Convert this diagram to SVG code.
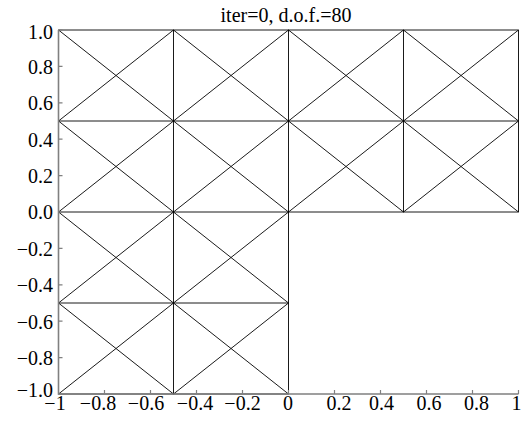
<svg xmlns="http://www.w3.org/2000/svg" width="526" height="422" viewBox="0 0 526 422">
<style>
.m{stroke:#000;stroke-width:0.9;fill:none}
.ax{stroke:#808080;stroke-width:1.6;fill:none}
.tk{stroke:#808080;stroke-width:1.2;fill:none}
text{font-family:"Liberation Serif","Times New Roman",serif;font-size:20px;fill:#000}
.yl{text-anchor:end}
.xl{text-anchor:middle}
</style>
<rect width="526" height="422" fill="#fff"/>
<g id="mesh">
<path class="m" d="M58.5 30H518.5M58.5 121H518.5M58.5 212H518.5M58.5 303H288.5M58.5 394H288.5
M58.5 30V394M173.5 30V394M288.5 30V394M403.5 30V212M518.5 30V212
M58.5 30L173.5 121M58.5 121L173.5 30M173.5 30L288.5 121M173.5 121L288.5 30M288.5 30L403.5 121M288.5 121L403.5 30M403.5 30L518.5 121M403.5 121L518.5 30
M58.5 121L173.5 212M58.5 212L173.5 121M173.5 121L288.5 212M173.5 212L288.5 121M288.5 121L403.5 212M288.5 212L403.5 121M403.5 121L518.5 212M403.5 212L518.5 121
M58.5 212L173.5 303M58.5 303L173.5 212M173.5 212L288.5 303M173.5 303L288.5 212
M58.5 303L173.5 394M58.5 394L173.5 303M173.5 303L288.5 394M173.5 394L288.5 303"/>
</g>
<g id="axes">
<path class="ax" d="M58.5 30V394H518.5"/>
<path class="tk" d="M58.5 357.6h4M58.5 321.2h4M58.5 284.8h4M58.5 248.4h4M58.5 212h4M58.5 175.6h4M58.5 139.2h4M58.5 102.8h4M58.5 66.4h4M58.5 30h4
M104.5 394v-4M150.5 394v-4M196.5 394v-4M242.5 394v-4M288.5 394v-4M334.5 394v-4M380.5 394v-4M426.5 394v-4M472.5 394v-4M518.5 394v-4"/>
</g>
<g id="ylabels">
<text class="yl" x="53" y="39">1.0</text>
<text class="yl" x="53" y="73.5">0.8</text>
<text class="yl" x="53" y="110">0.6</text>
<text class="yl" x="53" y="146.5">0.4</text>
<text class="yl" x="53" y="183">0.2</text>
<text class="yl" x="53" y="219">0.0</text>
<text class="yl" x="53" y="255.5">−0.2</text>
<text class="yl" x="53" y="292">−0.4</text>
<text class="yl" x="53" y="328.5">−0.6</text>
<text class="yl" x="53" y="365">−0.8</text>
<text class="yl" x="53" y="397">−1.0</text>
</g>
<g id="xlabels">
<text class="xl" x="55" y="410">−1</text>
<text class="xl" x="98" y="410">−0.8</text>
<text class="xl" x="146" y="410">−0.6</text>
<text class="xl" x="195" y="410">−0.4</text>
<text class="xl" x="242.5" y="410">−0.2</text>
<text class="xl" x="288" y="410">0</text>
<text class="xl" x="339" y="410">0.2</text>
<text class="xl" x="381.5" y="410">0.4</text>
<text class="xl" x="429" y="410">0.6</text>
<text class="xl" x="476.5" y="410">0.8</text>
<text class="xl" x="516.5" y="410">1</text>
</g>
<text id="title" class="xl" x="286" y="22">iter=0, d.o.f.=80</text>
</svg>
